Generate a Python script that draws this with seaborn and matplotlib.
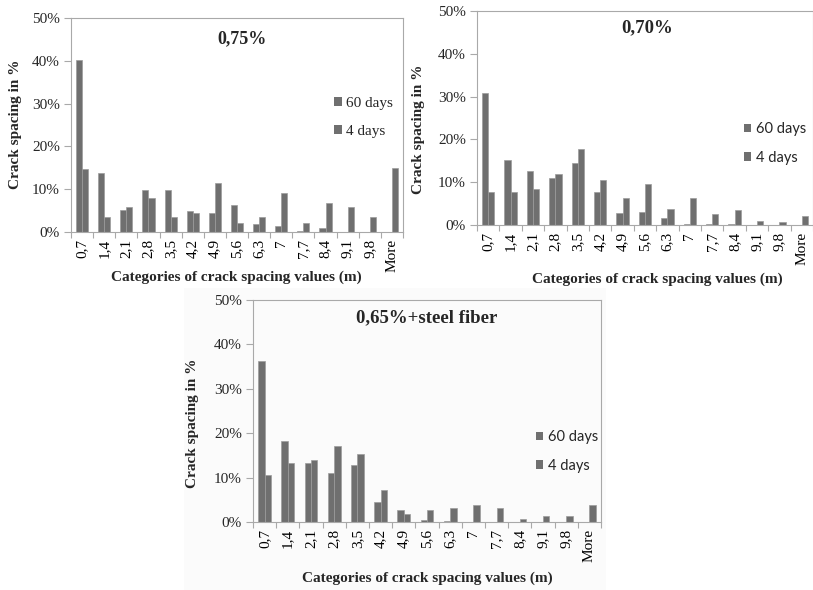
import matplotlib
matplotlib.use("Agg")
import matplotlib.pyplot as plt
from matplotlib.patches import Patch, Rectangle
from matplotlib.ticker import FixedLocator, FuncFormatter
import pandas as pd
import seaborn as sns

# Crack spacing categories (m)
categories = ['0,7', '1,4', '2,1', '2,8', '3,5', '4,2', '4,9', '5,6',
              '6,3', '7', '7,7', '8,4', '9,1', '9,8', 'More']
ages = ['60 days', '4 days']

# Share of cracks per spacing class, in %
r075_60d = [40.2, 13.9, 5.2, 9.7, 9.7, 4.9, 4.5, 6.4, 1.8, 1.5, 0.3, 1.0, 0.0, 0.0, 0.0]
r075_4d = [14.8, 3.4, 5.8, 8.0, 3.4, 4.5, 11.5, 2.2, 3.4, 9.1, 2.2, 6.7, 5.8, 3.4, 14.9]

r070_60d = [30.8, 15.1, 12.7, 10.9, 14.4, 7.7, 2.7, 3.1, 1.6, 0.3, 0.2, 0.2, 0.0, 0.0, 0.0]
r070_4d = [7.7, 7.7, 8.4, 12.0, 17.8, 10.5, 6.2, 9.6, 3.8, 6.2, 2.6, 3.4, 1.0, 0.7, 2.0]

r065sf_60d = [36.2, 18.2, 13.2, 11.1, 12.9, 4.4, 2.8, 0.5, 0.2, 0.0, 0.0, 0.0, 0.0, 0.0, 0.0]
r065sf_4d = [10.5, 13.2, 13.9, 17.1, 15.3, 7.3, 1.9, 2.6, 3.2, 3.9, 3.2, 0.6, 1.3, 1.3, 3.9]

titles = ['0,75%', '0,70%', '0,65%+steel fiber']
y_ticks = [0, 10, 20, 30, 40, 50]

sns.set_theme(style="white")
plt.rcParams['font.family'] = ['Liberation Serif', 'DejaVu Serif']

W, H = 813, 590
fig = plt.figure(figsize=(W / 100, H / 100), dpi=100)
fig.patch.set_facecolor('white')

BAR = '#6f6f6f'
SPINE = '#a9a9a9'
SERIF = 'Liberation Serif'
SANS = 'Lato'


def fx(x):
    return x / W


def fy(y):
    return 1 - y / H


def rect(x0, y0, x1, y1):
    return [fx(x0), fy(y1), fx(x1) - fx(x0), fy(y0) - fy(y1)]


# faint backdrop behind the lower chart
fig.patches.append(Rectangle((fx(184), fy(590)), fx(606) - fx(184), fy(288) - fy(590),
                             transform=fig.transFigure, facecolor='#fbfbfb',
                             edgecolor='none', zorder=-5))


def panel(box, v60, v4, title, title_xy, title_size, ylab_xy, xlab_xy, leg_xy,
          leg_font, leg_size):
    ax = fig.add_axes(rect(*box))
    df = pd.DataFrame({
        'category': categories * 2,
        'share': list(v60) + list(v4),
        'age': [ages[0]] * len(categories) + [ages[1]] * len(categories),
    })
    sns.barplot(data=df, x='category', y='share', hue='age', order=categories,
                hue_order=ages, palette={a: BAR for a in ages}, width=0.55,
                errorbar=None, legend=False, edgecolor='#9c9c9c', linewidth=0.5,
                ax=ax)
    ax.set_xlim(-0.5, len(categories) - 0.5)
    ax.set_ylim(0, 50)
    ax.set_facecolor('none')
    ax.set_xlabel('')
    ax.set_ylabel('')
    ax.yaxis.set_major_locator(FixedLocator(y_ticks))
    ax.yaxis.set_major_formatter(FuncFormatter(lambda v, _: f"{v:.0f}%"))
    ax.set_xticks(range(len(categories)))
    ax.set_xticklabels(categories, rotation=90, fontfamily=SERIF, fontsize=11)
    ax.set_xticks([i - 0.5 for i in range(len(categories) + 1)], minor=True)
    ax.tick_params(axis='x', which='major', length=0, pad=5, colors='black')
    ax.tick_params(axis='x', which='minor', length=4, width=0.8, color=SPINE,
                   direction='out', bottom=True)
    ax.tick_params(axis='y', which='major', length=5, width=0.8, color=SPINE,
                   direction='out', left=True, pad=3, labelsize=11)
    for lbl in ax.get_yticklabels():
        lbl.set_fontfamily(SERIF)
    for s in ax.spines.values():
        s.set_visible(True)
        s.set_color(SPINE)
        s.set_linewidth(0.8)

    fig.text(fx(title_xy[0]), fy(title_xy[1]), title, ha='center', va='center',
             fontfamily=SERIF, fontweight='bold', fontsize=title_size)
    fig.text(fx(ylab_xy[0]), fy(ylab_xy[1]), 'Crack spacing in %', ha='center',
             va='center', rotation=90, fontfamily=SERIF, fontweight='bold',
             fontsize=11)
    fig.text(fx(xlab_xy[0]), fy(xlab_xy[1]), 'Categories of crack spacing values (m)',
             ha='center', va='center', fontfamily=SERIF, fontweight='bold',
             fontsize=11)
    handles = [Patch(facecolor=BAR, edgecolor='none') for _ in ages]
    ax.legend(handles, ages, loc='upper left', bbox_to_anchor=(fx(leg_xy[0]), fy(leg_xy[1])),
              bbox_transform=fig.transFigure, frameon=False, borderpad=0,
              borderaxespad=0, handlelength=0.5, handleheight=0.5,
              handletextpad=0.3, labelspacing=1.0,
              prop={'family': leg_font, 'size': leg_size})
    return ax


panel((71, 18, 403, 232), r075_60d, r075_4d, titles[0], (242, 39), 13, (15, 124),
      (236, 277), (334, 97), SERIF, 11)
panel((477, 11, 813, 225), r070_60d, r070_4d, titles[1], (647, 28), 13.5, (418, 129),
      (657, 279), (744, 122), SANS, 10.5)
panel((253, 300, 601, 522), r065sf_60d, r065sf_4d, titles[2], (427, 318), 13.5, (192, 423),
      (427, 578), (536, 430), SANS, 10.5)

fig.savefig('out.png', dpi=100, facecolor='white')
